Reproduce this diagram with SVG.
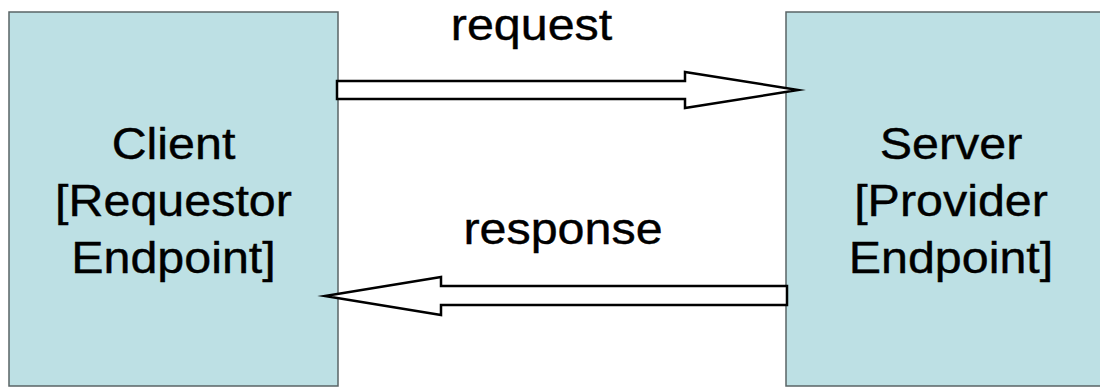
<svg xmlns="http://www.w3.org/2000/svg" width="1100" height="388" viewBox="0 0 1100 388">
  <style>
    .box { fill: #bde0e4; stroke: #5a6466; stroke-width: 1.5; }
    .arrow { fill: #ffffff; stroke: #000000; stroke-width: 2.5; stroke-linejoin: miter; stroke-miterlimit: 20; }
    .label { font-family: "Liberation Sans", Arial, sans-serif; font-size: 44px; fill: #000000; stroke: #000000; stroke-width: 0.4; text-anchor: middle; }
  </style>
  <rect width="1100" height="388" fill="#ffffff"/>

  <g id="client">
    <rect class="box" x="9" y="12" width="329" height="374"/>
    <text class="label" transform="translate(173.5 159) scale(1.1 1)">Client</text>
    <text class="label" transform="translate(173.5 216) scale(1.1 1)">[Requestor</text>
    <text class="label" transform="translate(173.5 273) scale(1.1 1)">Endpoint]</text>
  </g>

  <g id="server">
    <rect class="box" x="786" y="12" width="330" height="374"/>
    <text class="label" transform="translate(951 159) scale(1.1 1)">Server</text>
    <text class="label" transform="translate(951 216) scale(1.1 1)">[Provider</text>
    <text class="label" transform="translate(951 273) scale(1.1 1)">Endpoint]</text>
  </g>

  <g id="connectors">
    <g id="request">
      <polygon class="arrow" points="337,81 685,81 685,72 798,90 685,108 685,99 337,99"/>
      <text class="label" transform="translate(531.5 39.5) scale(1.1 1)">request</text>
    </g>
    <g id="response">
      <polygon class="arrow" points="787,286 441,286 441,277 325,296 441,315 441,305 787,305"/>
      <text class="label" transform="translate(563 244) scale(1.1 1)">response</text>
    </g>
  </g>
</svg>
